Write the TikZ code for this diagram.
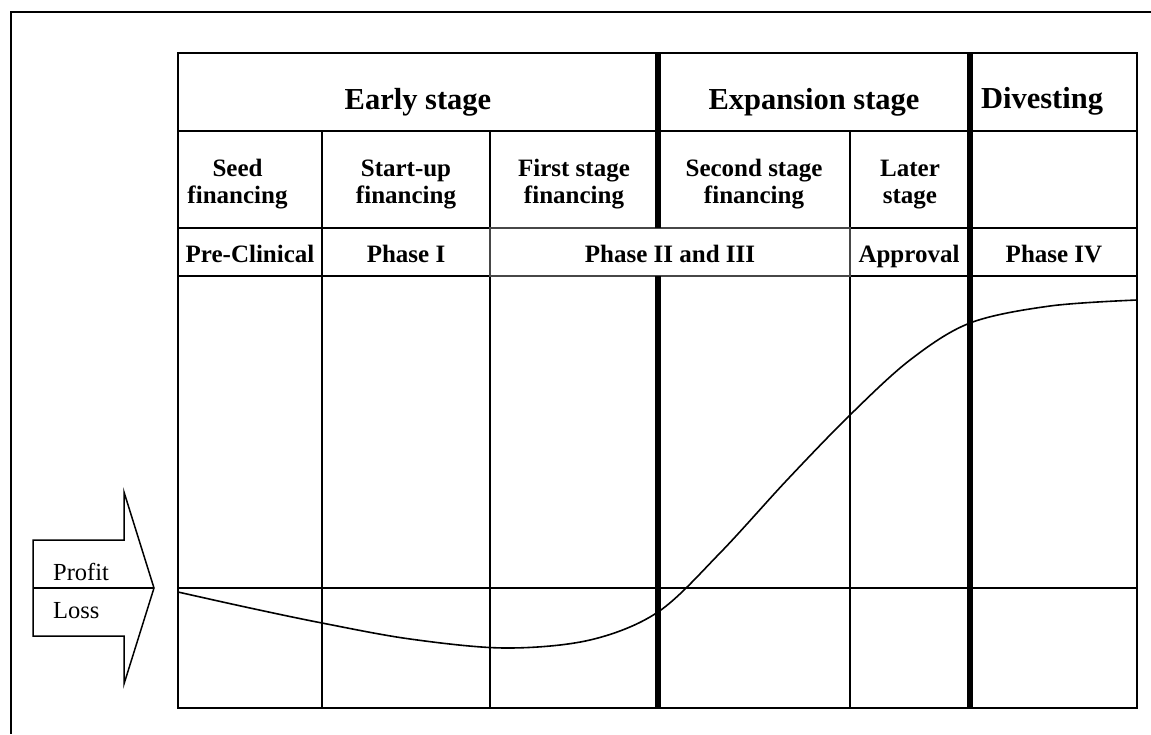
\documentclass[tikz,border=0pt]{standalone}
\usepackage{fontspec}
\setmainfont{Liberation Serif}
\begin{document}
\begin{tikzpicture}[x=1pt,y=-1pt,
  rule/.style={line width=1.7pt, black},
  heavy/.style={line width=5.5pt, black},
  soft/.style={line width=1.7pt, black!72},
  bighead/.style={font=\bfseries\fontsize{30.5}{34}\selectfont, anchor=base, inner sep=0pt},
  cell/.style={font=\bfseries\fontsize{25}{27}\selectfont, anchor=base, inner sep=0pt, align=center},
  plain/.style={font=\fontsize{24.5}{27}\selectfont, anchor=base west, inner sep=0pt}]
\useasboundingbox (0,0) rectangle (1151,734);

% page frame (top and left edges)
\draw[line width=2pt] (1151,12) -- (11,12) -- (11,734);

% table grid
\draw[rule] (178,53) rectangle (1137,708);
\draw[rule] (178,131) -- (1137,131);
\draw[rule] (178,228) -- (490,228) (850,228) -- (1137,228);
\draw[rule] (178,276) -- (490,276) (850,276) -- (1137,276);
\draw[rule] (178,588) -- (1137,588);
\draw[rule] (322,131) -- (322,708);
\draw[rule] (490,131) -- (490,228) (490,276) -- (490,708);
\draw[rule] (850,131) -- (850,228) (850,276) -- (850,708);
\draw[soft] (490,228) rectangle (850,276);
\draw[heavy] (658,53) -- (658,228) (658,276) -- (658,708);
\draw[heavy] (970,53) -- (970,708);

% profit / loss arrow
\draw[rule, line width=1.5pt, line join=miter]
  (33,540) -- (124,540) -- (124,492) -- (154,588) -- (124,684) -- (124,636) -- (33,636) -- cycle;
\draw[rule, line width=1.5pt] (33,588) -- (154,588);
\node[plain] (profit) at (53,580) {Profit};
\node[plain] (loss) at (53,618) {Loss};

% stage headings
\node[bighead] (early) at (418,109) {Early stage};
\node[bighead] (expansion) at (814,109) {Expansion stage};
\node[bighead] (divesting) at (1042,108) {Divesting};

% financing rounds (anchored on the second line's baseline)
\node[cell] (seed) at (237.5,203) {Seed\\financing};
\node[cell] (startup) at (406,203) {Start-up\\financing};
\node[cell] (first) at (574,203) {First stage\\financing};
\node[cell] (second) at (754,203) {Second stage\\financing};
\node[cell] (later) at (910,203) {Later\\stage};

% clinical phases
\node[cell] (preclin) at (250,262) {Pre-Clinical};
\node[cell] (phaseone) at (406,262) {Phase I};
\node[cell] (phasetwo) at (670,262) {Phase II and III};
\node[cell] (approval) at (909,262) {Approval};
\node[cell] (phasefour) at (1054,262) {Phase IV};

% value curve
\draw[line width=1.6pt] plot[smooth, tension=0.55] coordinates
  {(178,592) (250,608) (322,623) (410,639) (505,648) (590,640) (658,612)
   (720,553) (787,480) (850,415) (910,360) (970,323) (1050,306) (1137,300)};
\end{tikzpicture}
\end{document}
